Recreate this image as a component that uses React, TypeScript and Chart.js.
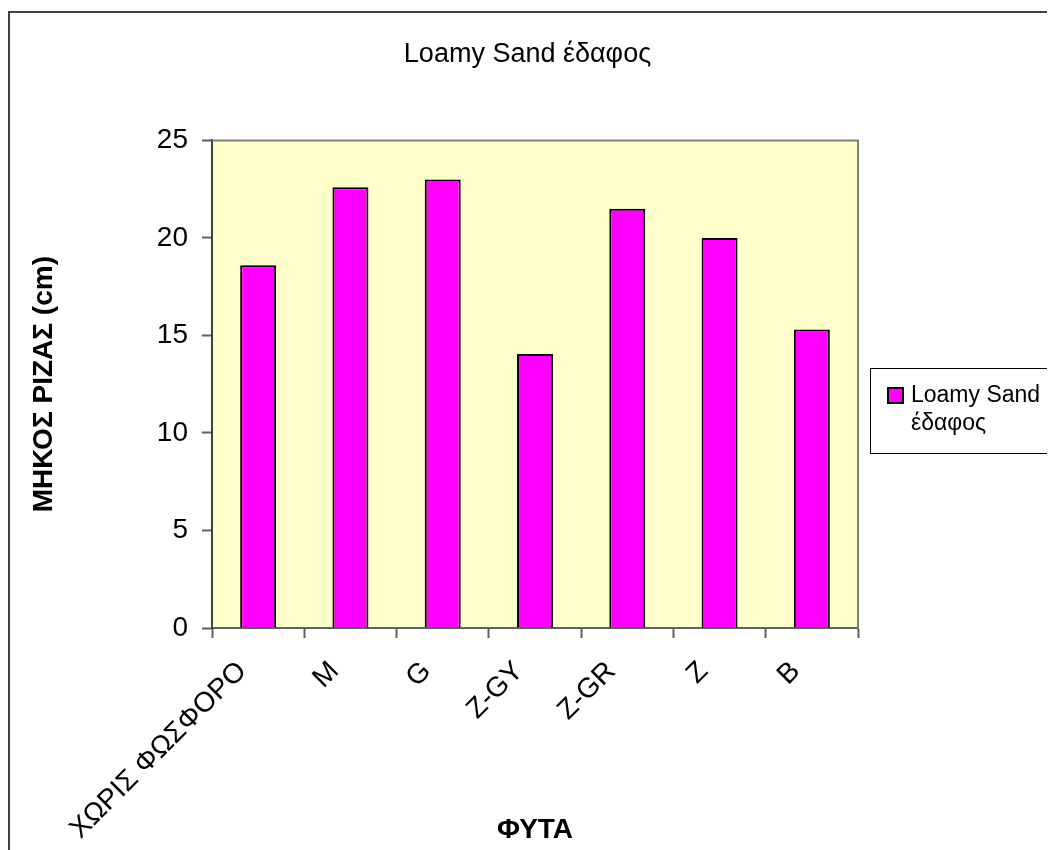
import React, { useEffect, useRef } from 'react';
import { Chart, registerables } from 'chart.js';

Chart.register(...registerables);

const chartTitle = 'Loamy Sand έδαφος';
const categories = ['ΧΩΡΙΣ ΦΩΣΦΟΡΟ', 'M', 'G', 'Z-GY', 'Z-GR', 'Z', 'B'];
const values = [18.6, 22.6, 23.0, 14.05, 21.5, 20.0, 15.3];
const seriesLabel = 'Loamy Sand έδαφος';
const legendLines = ['Loamy Sand', 'έδαφος'];
const yAxisTitle = 'ΜΗΚΟΣ ΡΙΖΑΣ (cm)';
const xAxisTitle = 'ΦΥΤΑ';
const yMin = 0;
const yMax = 25;
const yStep = 5;

const FONT = "'Liberation Sans', Arial, sans-serif";

const framePlugin = {
  id: 'framePlugin',
  beforeDraw(chart: any) {
    const { ctx, chartArea, width, height } = chart;
    ctx.save();
    ctx.fillStyle = '#ffffff';
    ctx.fillRect(0, 0, width, height);
    ctx.strokeStyle = '#404040';
    ctx.lineWidth = 2;
    ctx.strokeRect(1, 4, width + 20, height + 20);
    ctx.fillStyle = '#FFFFCC';
    ctx.fillRect(chartArea.left, chartArea.top, chartArea.right - chartArea.left, chartArea.bottom - chartArea.top);
    ctx.restore();
  },
  afterDatasetsDraw(chart: any) {
    const { ctx, chartArea } = chart;
    ctx.save();
    ctx.strokeStyle = '#808080';
    ctx.lineWidth = 2;
    ctx.beginPath();
    ctx.moveTo(chartArea.left, chartArea.top);
    ctx.lineTo(chartArea.right, chartArea.top);
    ctx.lineTo(chartArea.right, chartArea.bottom);
    ctx.stroke();
    ctx.restore();
  },
  afterDraw(chart: any) {
    const { ctx, chartArea } = chart;
    const ds = chart.data.datasets[0];
    const left = chartArea.right + 12;
    const top = 360;
    ctx.save();
    ctx.strokeStyle = '#000000';
    ctx.lineWidth = 1;
    ctx.strokeRect(left + 0.5, top + 0.5, 400, 85);
    ctx.fillStyle = ds.backgroundColor;
    ctx.fillRect(left + 18, top + 20, 15, 15);
    ctx.lineWidth = 2;
    ctx.strokeRect(left + 18, top + 20, 15, 15);
    ctx.fillStyle = '#000000';
    ctx.font = `23px ${FONT}`;
    ctx.textAlign = 'left';
    ctx.textBaseline = 'alphabetic';
    legendLines.forEach((line, i) => {
      ctx.fillText(line, left + 41, top + 34 + i * 28);
    });
    ctx.restore();
  },
};

export default function App() {
  const ref = useRef<HTMLCanvasElement | null>(null);
  useEffect(() => {
    if (!ref.current) return;
    const chart = new Chart(ref.current, {
      type: 'bar',
      data: {
        labels: categories,
        datasets: [
          {
            label: seriesLabel,
            data: values,
            backgroundColor: '#FF00FF',
            borderColor: '#000000',
            borderWidth: 2,
            barPercentage: 0.39,
            categoryPercentage: 1,
            yAxisID: 'y',
          },
        ],
      },
      options: {
        responsive: false,
        animation: false,
        devicePixelRatio: 1,
        layout: { padding: { left: 0, right: 8, top: 0, bottom: 0 } },
        plugins: {
          legend: { display: false },
          tooltip: { enabled: false },
          title: {
            display: true,
            text: chartTitle,
            color: '#000000',
            font: { family: FONT, size: 27, weight: 'normal' },
            padding: { top: 30, bottom: 70 },
          },
        },
        scales: {
          x: {
            grid: {
              display: true,
              offset: true,
              drawOnChartArea: false,
              drawTicks: true,
              tickLength: 10,
              tickWidth: 2,
              tickColor: '#606060',
            },
            border: { display: true, color: '#606060', width: 2 },
            ticks: {
              color: '#000000',
              font: { family: FONT, size: 28 },
              maxRotation: 45,
              minRotation: 45,
              padding: 17,
              labelOffset: -16,
              autoSkip: false,
            },
            title: {
              display: true,
              text: xAxisTitle,
              color: '#000000',
              font: { family: FONT, size: 28, weight: 'bold' },
              padding: { top: 0, bottom: 3 },
            },
            afterFit(scale: any) {
              scale.height = 222;
            },
          },
          y: {
            min: yMin,
            max: yMax,
            position: 'left',
            grid: {
              display: true,
              drawOnChartArea: false,
              drawTicks: true,
              tickLength: 10,
              tickWidth: 2,
              tickColor: '#606060',
            },
            border: { display: true, color: '#404040', width: 2 },
            ticks: {
              stepSize: yStep,
              color: '#000000',
              font: { family: FONT, size: 28 },
              padding: 14,
            },
            title: {
              display: true,
              text: yAxisTitle,
              color: '#000000',
              font: { family: FONT, size: 28, weight: 'bold' },
              padding: { top: 19, bottom: 0 },
            },
            afterFit(scale: any) {
              scale.width = 204;
            },
          },
          legendSpace: {
            type: 'linear',
            position: 'right',
            display: true,
            grid: { display: false, drawTicks: false },
            border: { display: false },
            ticks: { display: false },
            afterFit(scale: any) {
              scale.width = 189;
            },
          },
        },
      },
      plugins: [framePlugin],
    });
    return () => chart.destroy();
  }, []);
  return (
    <div style={{ width: 1047, height: 842, overflow: 'hidden' }}>
      <canvas ref={ref} width={1047} height={842} style={{ display: 'block', width: 1047, height: 842 }} />
    </div>
  );
}
